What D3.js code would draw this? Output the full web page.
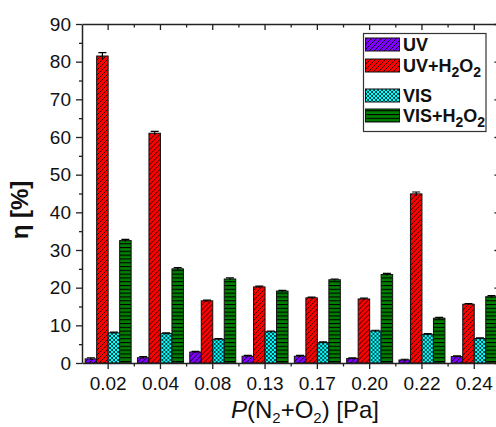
<!DOCTYPE html>
<html><head><meta charset="utf-8">
<script src="https://cdn.jsdelivr.net/npm/d3@7"></script>
<style>body{margin:0;background:#fff}svg{display:block}text{font-family:"Liberation Sans",Arial,sans-serif}</style>
</head><body>
<svg id="c" width="496" height="427"></svg>
<script>
const categories = ["0.02","0.04","0.08","0.13","0.17","0.20","0.22","0.24"];
const seriesNames = ["UV","UV+H2O2","VIS","VIS+H2O2"];
const uv      = [1.1, 1.4, 2.9, 1.8, 1.8, 1.2, 0.8, 1.7];
const uvH2O2  = [81.5, 61.0, 16.5, 20.2, 17.3, 17.0, 44.9, 15.6];
const vis     = [8.0, 7.8, 6.3, 8.3, 5.4, 8.5, 7.6, 6.5];
const visH2O2 = [32.5, 25.0, 22.3, 19.1, 22.1, 23.5, 11.9, 17.6];
const uvErr      = [0.3, 0.3, 0.2, 0.2, 0.2, 0.2, 0.2, 0.2];
const uvH2O2Err  = [0.9, 0.5, 0.2, 0.2, 0.2, 0.2, 0.5, 0.2];
const visErr     = [0.2, 0.2, 0.2, 0.2, 0.2, 0.2, 0.2, 0.2];
const visH2O2Err = [0.3, 0.3, 0.3, 0.2, 0.2, 0.3, 0.2, 0.3];
const yTicks = [0,10,20,30,40,50,60,70,80,90];
const yMinorTicks = [5,15,25,35,45,55,65,75,85];

const seriesValues = [uv, uvH2O2, vis, visH2O2];
const seriesErrs = [uvErr, uvH2O2Err, visErr, visH2O2Err];
const colors = ["#8000ff","#ff0000","#00ffff","#008000"];
const patIds = ["pUV","pUVH","pVIS","pVISH"];
const FF = "'Liberation Sans', Arial, sans-serif";

const svg = d3.select("#c");
const L = 82, T = 24, B = 363, R = 82 + 8*52.3;

const x = d3.scaleBand().domain(categories).range([L, R]).paddingInner(0).paddingOuter(0);
const xs = d3.scaleBand().domain(seriesNames).range([0, x.bandwidth()]).paddingInner(0).paddingOuter(0.274);
const y = d3.scaleLinear().domain([0, 90]).range([B, T]);

// patterns
const defs = svg.append("defs");
function hatch(id, col, sw){
  const p = defs.append("pattern").attr("id", id).attr("patternUnits","userSpaceOnUse").attr("width",5).attr("height",5);
  p.append("rect").attr("width",5).attr("height",5).attr("fill",col);
  p.append("path").attr("d","M-1,1 l2,-2 M0,5 l5,-5 M4,6 l2,-2").attr("stroke","#000").attr("stroke-width",sw);
}
hatch(patIds[0], colors[0], 0.9);
hatch(patIds[1], colors[1], 0.8);
{
  const p = defs.append("pattern").attr("id", patIds[2]).attr("patternUnits","userSpaceOnUse").attr("width",4).attr("height",4);
  p.append("rect").attr("width",4).attr("height",4).attr("fill",colors[2]);
  p.append("path").attr("d","M-1,1 l2,-2 M0,4 l4,-4 M3,5 l2,-2 M-1,3 l2,2 M0,0 l4,4 M3,-1 l2,2").attr("stroke","#000").attr("stroke-width",0.7);
}
{
  const p = defs.append("pattern").attr("id", patIds[3]).attr("patternUnits","userSpaceOnUse").attr("width",4).attr("height",3.8);
  p.append("rect").attr("width",4).attr("height",3.8).attr("fill",colors[3]);
  p.append("rect").attr("y",0).attr("width",4).attr("height",1.1).attr("fill","#000");
}

// bars
const groups = svg.append("g").selectAll("g").data(categories).join("g")
  .attr("transform", d => `translate(${x(d)},0)`);
seriesNames.forEach((s, si) => {
  groups.append("rect")
    .attr("x", xs(s))
    .attr("y", (d,i) => y(seriesValues[si][i]))
    .attr("width", xs.bandwidth())
    .attr("height", (d,i) => y(0) - y(seriesValues[si][i]))
    .attr("fill", `url(#${patIds[si]})`)
    .attr("stroke", "#111").attr("stroke-width", 1);
  groups.append("path")
    .attr("d", (d,i) => {
      const cx = xs(s) + xs.bandwidth()/2;
      const v = seriesValues[si][i], e = seriesErrs[si][i];
      const yt = y(v+e), yb = y(v-e);
      return `M${cx},${yb}V${yt}M${cx-4},${yt}H${cx+4}`;
    })
    .attr("stroke","#000").attr("stroke-width",1.2).attr("fill","none");
});

// axes
const axCol = "#222";
function styleAxis(g){
  g.select(".domain").attr("stroke", axCol).attr("stroke-width", 1.5);
  g.selectAll(".tick line").attr("stroke", axCol).attr("stroke-width", 1.3);
  g.selectAll("text").attr("font-size", 19).attr("fill","#111").attr("font-family",FF);
}
const gl = svg.append("g").attr("transform", `translate(${L},0)`)
  .call(d3.axisLeft(y).tickValues(yTicks).tickSize(6).tickSizeOuter(0).tickPadding(5));
styleAxis(gl);
const glm = svg.append("g").attr("transform", `translate(${L},0)`)
  .call(d3.axisLeft(y).tickValues(yMinorTicks).tickSize(3).tickSizeOuter(0).tickFormat(""));
styleAxis(glm); glm.select(".domain").remove();

const gr = svg.append("g").attr("transform", `translate(${R},0)`)
  .call(d3.axisRight(y).tickValues(yTicks).tickSize(-6).tickSizeOuter(0).tickFormat(""));
styleAxis(gr);
const grm = svg.append("g").attr("transform", `translate(${R},0)`)
  .call(d3.axisRight(y).tickValues(yMinorTicks).tickSize(-3).tickSizeOuter(0).tickFormat(""));
styleAxis(grm); grm.select(".domain").remove();

const gb = svg.append("g").attr("transform", `translate(0,${B})`)
  .call(d3.axisBottom(x).tickSize(6).tickSizeOuter(0).tickPadding(8));
styleAxis(gb);
const boundaries = categories.slice(1).map(c => x(c));
gb.selectAll(".minor").data(boundaries).join("line").attr("class","minor")
  .attr("x1", d=>d).attr("x2", d=>d).attr("y1",0).attr("y2",3.5)
  .attr("stroke", axCol).attr("stroke-width",1.3);

const gt = svg.append("g").attr("transform", `translate(0,${T})`)
  .call(d3.axisTop(x).tickSize(-6).tickSizeOuter(0).tickFormat(""));
styleAxis(gt);
gt.selectAll(".minor").data(boundaries).join("line").attr("class","minor")
  .attr("x1", d=>d).attr("x2", d=>d).attr("y1",0).attr("y2",3.5)
  .attr("stroke", axCol).attr("stroke-width",1.3);

// axis titles
svg.append("text").attr("transform","translate(28,210) rotate(-90)")
  .attr("text-anchor","middle").attr("font-size",24).attr("font-weight","bold").attr("fill","#111")
  .attr("font-family",FF).text("η [%]");

const xt = svg.append("text").attr("x", 305).attr("y", 418).attr("text-anchor","middle")
  .attr("font-size",24).attr("fill","#111").attr("font-family",FF);
xt.append("tspan").attr("font-style","italic").text("P");
xt.append("tspan").text("(N");
xt.append("tspan").attr("font-size",15).attr("dy",5).text("2");
xt.append("tspan").attr("dy",-5).text("+O");
xt.append("tspan").attr("font-size",15).attr("dy",5).text("2");
xt.append("tspan").attr("dy",-5).text(") [Pa]");

// legend
const lg = svg.append("g");
lg.append("rect").attr("x",363.5).attr("y",33.5).attr("width",122.5).attr("height",98)
  .attr("fill","#fff").attr("stroke","#333").attr("stroke-width",1.2);
const legRows = [
  {sw:38, base:51, parts:[["UV",0]]},
  {sw:59, base:72, parts:[["UV+H",0],["2",1],["O",0],["2",1]]},
  {sw:89, base:102, parts:[["VIS",0]]},
  {sw:109, base:122, parts:[["VIS+H",0],["2",1],["O",0],["2",1]]}
];
legRows.forEach((r, i) => {
  lg.append("rect").attr("x",365.5).attr("y",r.sw).attr("width",34).attr("height",13)
    .attr("fill",`url(#${patIds[i]})`).attr("stroke","#111").attr("stroke-width",1);
  const t = lg.append("text").attr("x",403).attr("y",r.base).attr("font-size",18)
    .attr("font-weight","bold").attr("fill","#111").attr("font-family",FF);
  let sub = false;
  r.parts.forEach(([s, isSub]) => {
    const ts = t.append("tspan").text(s);
    if (isSub && !sub) { ts.attr("font-size",14).attr("dy",5); sub = true; }
    else if (!isSub && sub) { ts.attr("dy",-5); sub = false; }
    else if (isSub) ts.attr("font-size",14);
  });
});
</script>
</body></html>
